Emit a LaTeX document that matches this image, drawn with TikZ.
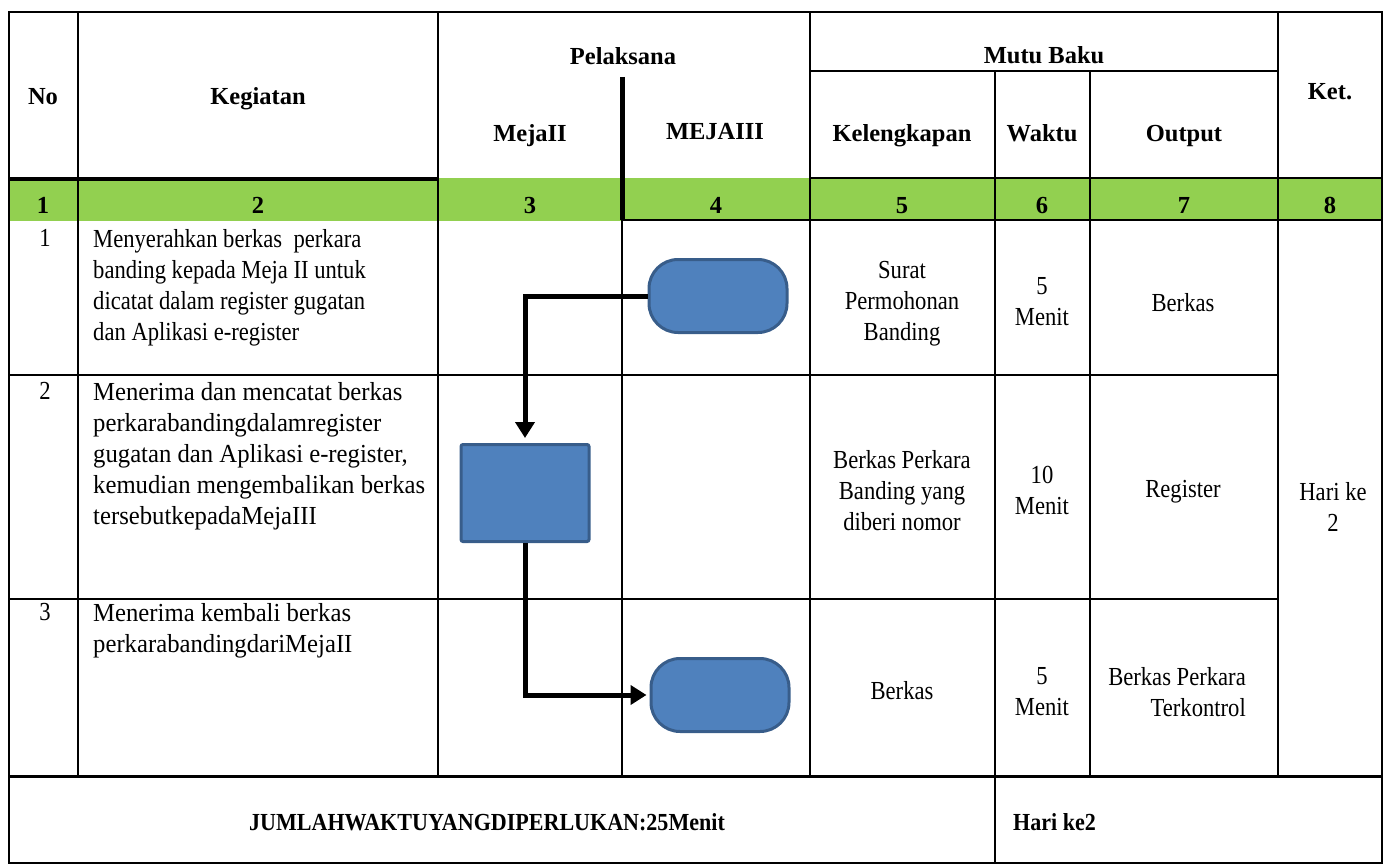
\documentclass[tikz,border=0pt]{standalone}
\usepackage{fontspec}
\usepackage{graphicx}
\setmainfont{Liberation Serif}
\newfontfamily\narrowserif{Liberation Serif}[FakeStretch=0.87]
\newfontfamily\looseserif{Liberation Serif}[FakeStretch=0.95]
\usetikzlibrary{arrows.meta}
\definecolor{hdrgreen}{HTML}{92D050}
\definecolor{boxfill}{HTML}{4F81BD}
\definecolor{boxedge}{HTML}{385D8A}

\begin{document}
\begin{tikzpicture}[x=1pt,y=-1pt,
  thin/.style={line width=2pt},
  heavy/.style={line width=4.5pt},
  hdr/.style={font=\bfseries\fontsize{24.5}{28}\selectfont, inner sep=0pt, anchor=base},
  body/.style={font=\narrowserif\fontsize{26}{31}\selectfont, inner sep=0pt},
  widebody/.style={font=\looseserif\fontsize{26}{31}\selectfont, inner sep=0pt},
  lefttext/.style={body, align=left, anchor=north west},
  widetext/.style={widebody, align=left, anchor=north west},
  midtext/.style={body, align=center, anchor=north},
  term/.style={draw=boxedge, fill=boxfill, line width=3pt, rounded corners=29pt,
               minimum width=138pt, minimum height=73pt, inner sep=0pt},
  proc/.style={draw=boxedge, fill=boxfill, line width=3pt, rounded corners=2pt,
               minimum width=128pt, minimum height=97pt, inner sep=0pt},
  flow/.style={line width=5pt, line join=miter, -{Triangle[length=16pt,width=19pt]}}
]
\useasboundingbox (0,0) rectangle (1384,864);

% column-number band
\fill[hdrgreen] (9,178) rectangle (1383,221);

% outer frame
\draw[line width=2.5pt] (9,12) rectangle (1382,863);

% vertical rules
\draw[thin] (78,12) -- (78,776);
\draw[thin] (438,12) -- (438,776);
\draw[thin] (622,220) -- (622,776);
\draw[line width=5pt] (622,77) -- (622,220);
\draw[thin] (810,12) -- (810,776);
\draw[thin] (995,71) -- (995,863);
\draw[thin] (1090,71) -- (1090,776);
\draw[thin] (1278,12) -- (1278,776);

% horizontal rules
\draw[thin] (810,71) -- (1278,71);
\draw[heavy] (9,179) -- (438,179);
\draw[thin] (810,178) -- (1382,178);
\draw[thin] (622,220) -- (1382,220);
\draw[thin] (9,375) -- (1278,375);
\draw[thin] (9,599) -- (1278,599);
\draw[line width=3pt] (9,776) -- (1382,776);

% header texts
\node[hdr] (hNo)   at (43,105)   {No};
\node[hdr] (hKeg)  at (258,105)  {Kegiatan};
\node[hdr] (hPel)  at (623,65)   {Pelaksana};
\node[hdr] (hM2)   at (530,142)  {MejaII};
\node[hdr] (hM3)   at (715,140)  {MEJAIII};
\node[hdr] (hMutu) at (1044,64)  {Mutu Baku};
\node[hdr] (hKel)  at (902,142)  {Kelengkapan};
\node[hdr] (hWak)  at (1042,142) {Waktu};
\node[hdr] (hOut)  at (1184,142) {Output};
\node[hdr] (hKet)  at (1330,100) {Ket.};

% column numbers
\node[hdr] (c1) at (43,213)   {1};
\node[hdr] (c2) at (258,213)  {2};
\node[hdr] (c3) at (530,213)  {3};
\node[hdr] (c4) at (716,213)  {4};
\node[hdr] (c5) at (902,213)  {5};
\node[hdr] (c6) at (1042,213) {6};
\node[hdr] (c7) at (1184,213) {7};
\node[hdr] (c8) at (1330,213) {8};

% row 1
\node[midtext] (n1) at (45,229) {1};
\node[lefttext] (k1) at (93,229) {Menyerahkan berkas\ \ perkara\\banding kepada Meja II untuk\\dicatat dalam register gugatan\\dan Aplikasi e-register};
\node[midtext] (kl1) at (902,261) {Surat\\Permohonan\\Banding};
\node[midtext] (w1) at (1042,277) {5\\Menit};
\node[midtext] (o1) at (1183,293) {Berkas};

% row 2
\node[midtext] (n2) at (45,382) {2};
\node[widetext] (k2) at (93,382) {Menerima dan mencatat berkas\\perkarabandingdalamregister\\gugatan dan Aplikasi e-register,\\kemudian mengembalikan berkas\\tersebutkepadaMejaIII};
\node[midtext] (kl2) at (902,450) {Berkas Perkara\\Banding yang\\diberi nomor};
\node[midtext] (w2) at (1042,466) {10\\Menit};
\node[midtext] (o2) at (1183,480) {Register};

% row 3
\node[midtext] (n3) at (45,603) {3};
\node[widetext] (k3) at (93,603) {Menerima kembali berkas\\perkarabandingdariMejaII};
\node[midtext] (kl3) at (902,681) {Berkas};
\node[midtext] (w3) at (1042,667) {5\\Menit};
\node[body, align=right, anchor=north east] (o3) at (1246,667) {Berkas Perkara\\Terkontrol};

% merged remark cell
\node[midtext] (ket) at (1333,482) {Hari ke\\2};

% footer
\node[hdr] (tot) at (487,830) {\scalebox{0.9}[1]{JUMLAHWAKTUYANGDIPERLUKAN:25Menit}};
\node[hdr, anchor=base west] (hari) at (1013,830) {\scalebox{0.9}[1]{Hari ke2}};

% flow shapes
\node[term] (t1) at (718,296) {};
\node[proc] (r1) at (525,493) {};
\node[term] (t2) at (720,695) {};

% connectors
\draw[flow, shorten >=5pt] (t1.west) -| (r1.north);
\draw[flow, shorten >=3pt] (r1.south) |- (t2.west);
\end{tikzpicture}
\end{document}
